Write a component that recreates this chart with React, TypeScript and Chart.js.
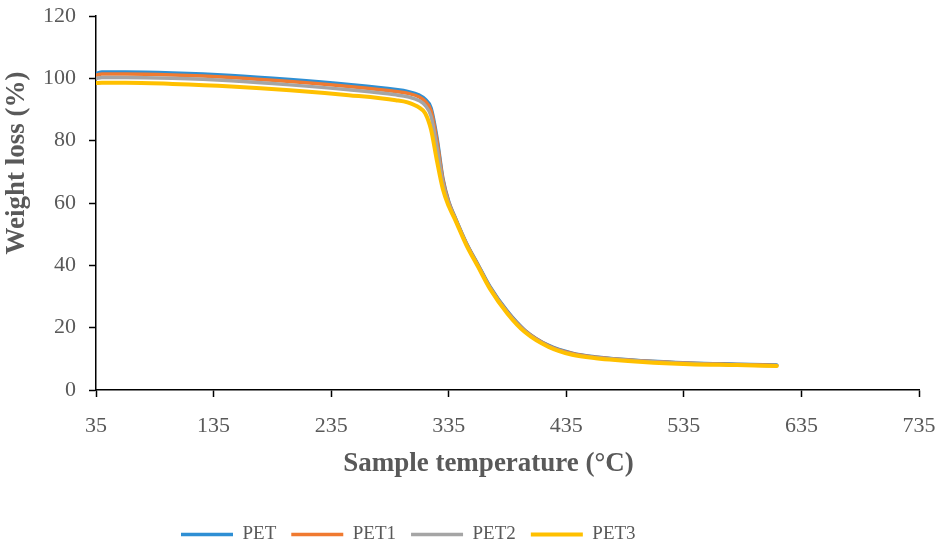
import React, { useEffect, useRef } from "react";
import { Chart, registerables } from "chart.js";

Chart.register(...registerables);

const temps = [35, 40, 60, 100, 150, 200, 250, 290, 300, 310, 315, 320, 325, 330, 335, 340, 350, 360, 370, 385, 400, 420, 440, 460, 500, 540, 580, 614];
const pet = [101.6, 102.0, 102.0, 101.7, 100.9, 99.6, 98.0, 96.4, 95.8, 94.6, 93.3, 90.5, 81.0, 68.0, 60.5, 55.8, 47.2, 40.2, 33.2, 25.2, 19.1, 14.3, 11.8, 10.6, 9.4, 8.7, 8.3, 8.0];
const pet1 = [101.0, 101.4, 101.4, 101.1, 100.3, 99.0, 97.4, 95.8, 95.2, 94.0, 92.6, 89.6, 80.0, 67.5, 60.2, 55.6, 47.0, 40.0, 33.0, 25.0, 19.0, 14.2, 11.7, 10.5, 9.3, 8.6, 8.2, 7.9];
const pet2 = [100.0, 100.3, 100.3, 100.0, 99.2, 97.9, 96.3, 94.7, 94.1, 92.8, 91.3, 87.8, 78.0, 66.5, 59.8, 55.4, 46.8, 39.8, 32.8, 24.8, 18.8, 14.0, 11.5, 10.4, 9.2, 8.5, 8.1, 7.8];
const pet3 = [98.5, 98.6, 98.6, 98.2, 97.4, 96.2, 94.6, 93.0, 92.3, 90.6, 88.8, 83.5, 73.5, 64.5, 59.0, 55.0, 46.5, 39.5, 32.5, 24.5, 18.5, 13.8, 11.3, 10.2, 9.0, 8.3, 8.0, 7.7];

const seriesNames = ["PET", "PET1", "PET2", "PET3"];
const seriesColors = ["#2E8FD4", "#F07A30", "#A5A5A5", "#FFC000"];
const xTicks = [35, 135, 235, 335, 435, 535, 635, 735];
const yTicks = [0, 20, 40, 60, 80, 100, 120];
const xTitle = "Sample temperature (°C)";
const yTitle = "Weight loss (%)";

const FONT = "'Liberation Serif', 'Times New Roman', serif";
const TXT = "#595959";

const adjustPlugin = {
  id: "adjust",
  afterLayout(chart: any) {
    const lg = chart.legend;
    if (lg && lg.lineWidths) {
      const pad = lg.options.labels.padding;
      const start = (lg.left + pad + lg.right - lg.lineWidths[0]) / 2;
      const dx = 181 - start;
      const desiredTop = 532 - (lg.height / 2);
      const dy = desiredTop - lg.top;
      lg.left += dx; lg.right += dx; lg.top += dy; lg.bottom += dy;
    }
    const shiftTitle = (scale: any, dTop: number, dLeft: number) => {
      if (!scale || scale._titlePatched) return;
      const orig = scale.drawTitle.bind(scale);
      scale.drawTitle = function () {
        const t = this.top, b = this.bottom, l = this.left, r = this.right;
        this.top += dTop; this.bottom += dTop; this.left += dLeft; this.right += dLeft;
        orig();
        this.top = t; this.bottom = b; this.left = l; this.right = r;
      };
      scale._titlePatched = true;
    };
    shiftTitle(chart.scales.y, -40, 0);
    shiftTitle(chart.scales.x, 0, -19);
  },
};

export default function App() {
  const ref = useRef<HTMLCanvasElement>(null);
  useEffect(() => {
    document.body.style.margin = "0";
    const values = [pet, pet1, pet2, pet3];
    const chart = new Chart(ref.current!, {
      type: "line",
      data: {
        datasets: values.map((arr, i) => ({
          label: seriesNames[i],
          data: temps.map((t, j) => ({ x: t, y: arr[j] })),
          borderColor: seriesColors[i],
          backgroundColor: seriesColors[i],
          borderWidth: i === 3 ? 4 : 3.5,
          borderCapStyle: "round",
          pointRadius: 0,
          pointStyle: "line",
          cubicInterpolationMode: "monotone",
          fill: false,
          order: 3 - i,
        })),
      },
      options: {
        animation: false,
        responsive: false,
        maintainAspectRatio: false,
        layout: { padding: { top: 16, right: 25, left: 0, bottom: 0 } },
        plugins: {
          tooltip: { enabled: false },
          legend: {
            position: "bottom",
            labels: {
              usePointStyle: true,
              pointStyle: "line",
              pointStyleWidth: 52,
              boxHeight: 19,
              padding: 15,
              color: TXT,
              font: { family: FONT, size: 19 },
              sort: (a: any, b: any) => a.datasetIndex - b.datasetIndex,
            },
          },
        },
        scales: {
          x: {
            type: "linear",
            min: 35,
            max: 735,
            afterBuildTicks: (s: any) => { s.ticks = xTicks.map((v) => ({ value: v })); },
            afterFit: (s: any) => { s.height = 113; s.paddingLeft = 0; s.paddingRight = 0; },
            grid: { drawOnChartArea: false, drawTicks: true, tickLength: 7, color: "#000", tickWidth: 1.5 },
            border: { color: "#000", width: 1.5 },
            ticks: { color: TXT, font: { family: FONT, size: 22 }, padding: 16, maxRotation: 0 },
            title: {
              display: true,
              text: xTitle,
              color: TXT,
              font: { family: FONT, size: 27, weight: "bold" },
              padding: { top: 0, bottom: 23 },
            },
          },
          y: {
            min: 0,
            max: 120,
            afterBuildTicks: (s: any) => { s.ticks = yTicks.map((v) => ({ value: v })); },
            afterFit: (s: any) => { s.width = 96; s.paddingTop = 0; s.paddingBottom = 0; },
            grid: { drawOnChartArea: false, drawTicks: true, tickLength: 7, color: "#000", tickWidth: 1.5 },
            border: { color: "#000", width: 1.5 },
            ticks: { color: TXT, font: { family: FONT, size: 22 }, padding: 13 },
            title: {
              display: true,
              text: yTitle,
              color: TXT,
              font: { family: FONT, size: 27, weight: "bold" },
              padding: { top: 1, bottom: 0 },
            },
          },
        },
      },
      plugins: [adjustPlugin],
    } as any);
    return () => chart.destroy();
  }, []);
  return (
    <div style={{ width: 944, height: 547, background: "#fff" }}>
      <canvas ref={ref} width={944} height={547} style={{ width: 944, height: 547, display: "block" }} />
    </div>
  );
}
